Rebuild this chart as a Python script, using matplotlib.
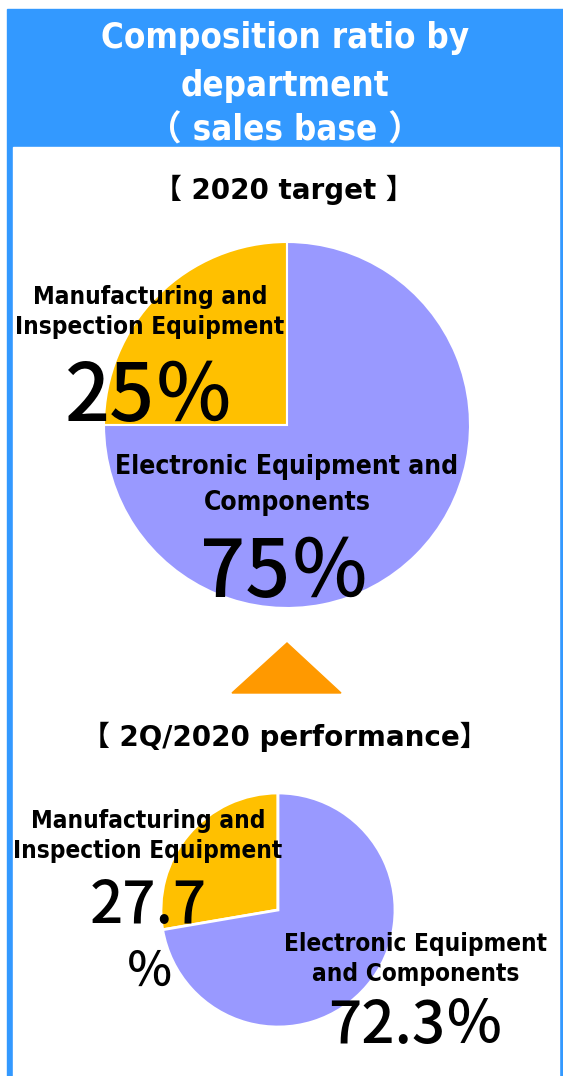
import matplotlib
matplotlib.use("Agg")
import matplotlib.pyplot as plt
from matplotlib import font_manager
from matplotlib.patches import Rectangle, Polygon

# data
title_lines = ["Composition ratio by", "department", "（ sales base ）"]
target_title = "【 2020 target 】"
perf_title = "【 2Q/2020 performance】"
depts = ["Manufacturing and\nInspection Equipment", "Electronic Equipment and\nComponents"]
target_share = [25, 75]
perf_share = [27.7, 72.3]
colors = ["#FFC000", "#9999FF"]

# pick a condensed sans if there is one
cond = None
for f in font_manager.fontManager.ttflist:
    if f.name == "DejaVu Sans" and f.stretch == "condensed":
        cond = "DejaVu Sans"
if cond is None:
    names = set(f.name for f in font_manager.fontManager.ttflist)
    if "Liberation Sans Narrow" in names:
        cond = "Liberation Sans Narrow"
txt_font = [cond or "Liberation Sans", "Noto Sans CJK JP", "DejaVu Sans"]
txt_kw = dict(family=txt_font, fontstretch="condensed")
cjk_font = ["Noto Sans CJK JP", "DejaVu Sans"]
head_font = ["DejaVu Sans", "Noto Sans CJK JP"]

W, H = 563, 1076
fig = plt.figure(figsize=(W / 100, H / 100), dpi=100)
bg = fig.add_axes([0, 0, 1, 1])
bg.set_xlim(0, W)
bg.set_ylim(H, 0)
bg.axis("off")

blue = "#3399FF"
bg.add_patch(Rectangle((7, 9), W - 7, H - 9, color=blue, zorder=0))
bg.add_patch(Rectangle((13, 147), 546, H - 147, color="white", zorder=1))

for y, s in zip([38, 86, 131], title_lines):
    bg.text(285, y, s, color="white", fontsize=25, fontweight="bold",
            ha="center", va="center", zorder=3, **txt_kw)

bg.text(284, 190, target_title, fontsize=20, fontweight="bold",
        family=head_font, ha="center", va="center", zorder=3)
bg.text(285, 737, perf_title, fontsize=20, fontweight="bold",
        family=head_font, ha="center", va="center", zorder=3)

# arrow triangle
bg.add_patch(Polygon([(232, 693), (287, 643), (341, 693)], closed=True,
                     color="#FF9900", zorder=3))


def pie_axes(cx, cy, r):
    ax = fig.add_axes([(cx - r) / W, (H - cy - r) / H, 2 * r / W, 2 * r / H])
    ax.set_zorder(2)
    return ax


ax1 = pie_axes(287, 425, 183)
ax1.pie(target_share, colors=colors, startangle=90, counterclock=True,
        radius=1, wedgeprops=dict(edgecolor="white", linewidth=1.5))
ax1.set_xlim(-1, 1)
ax1.set_ylim(-1, 1)
ax1.axis("off")

ax2 = pie_axes(278, 910, 117)
ax2.pie(perf_share, colors=colors, startangle=90, counterclock=True,
        radius=1, wedgeprops=dict(edgecolor="white", linewidth=2))
ax2.set_xlim(-1, 1)
ax2.set_ylim(-1, 1)
ax2.axis("off")

# labels on top of everything
lab = fig.add_axes([0, 0, 1, 1], zorder=5)
lab.set_xlim(0, W)
lab.set_ylim(H, 0)
lab.axis("off")

lab.text(150, 312, depts[0], fontsize=17.5, fontweight="bold", ha="center",
         va="center", linespacing=1.35, **txt_kw)
lab.text(150, 399, "%d％" % target_share[0], fontsize=57, family=cjk_font,
         fontweight="medium", ha="center", va="center")
lab.text(287, 485, depts[1], fontsize=19, fontweight="bold", ha="center",
         va="center", linespacing=1.45, **txt_kw)
lab.text(285, 575, "%d％" % target_share[1], fontsize=57, family=cjk_font,
         fontweight="medium", ha="center", va="center")

lab.text(148, 836, depts[0], fontsize=17.5, fontweight="bold", ha="center",
         va="center", linespacing=1.35, **txt_kw)
lab.text(148, 906, "%.1f" % perf_share[0], fontsize=42, family=cjk_font,
         fontweight="medium", ha="center", va="center")
lab.text(150, 972, "％", fontsize=34, family=cjk_font,
         fontweight="medium", ha="center", va="center")
lab.text(416, 959, "Electronic Equipment\nand Components", fontsize=17.5,
         fontweight="bold", ha="center", va="center", linespacing=1.35, **txt_kw)
lab.text(416, 1026, "%.1f％" % perf_share[1], fontsize=42, family=cjk_font,
         fontweight="medium", ha="center", va="center")

fig.savefig("out.png", dpi=100)
